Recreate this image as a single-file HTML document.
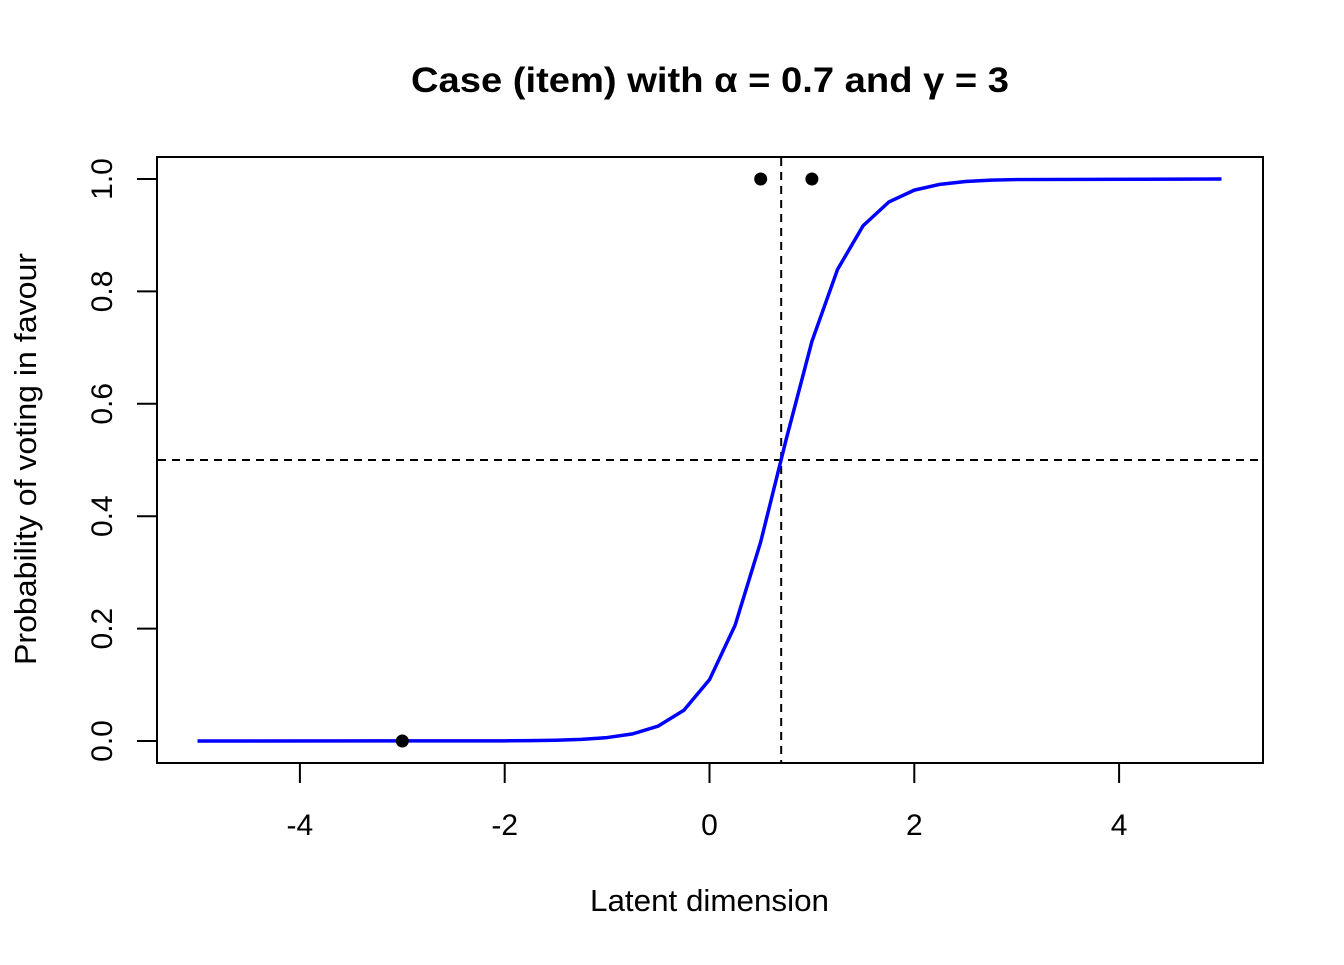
<!DOCTYPE html>
<html><head><meta charset="utf-8"><style>
html,body{margin:0;padding:0;background:#fff;}
svg text{font-family:"Liberation Sans",Arial,sans-serif;}
</style></head><body>
<svg id="chart" width="1344" height="960" xmlns="http://www.w3.org/2000/svg">
<text x="411" y="92" font-size="35" font-weight="bold" textLength="598" lengthAdjust="spacingAndGlyphs">Case (item) with α = 0.7 and γ = 3</text>
<text x="590" y="911" font-size="31" textLength="239" lengthAdjust="spacingAndGlyphs">Latent dimension</text>
<text transform="translate(36,665) rotate(-90)" font-size="31" textLength="412" lengthAdjust="spacingAndGlyphs">Probability of voting in favour</text>
<rect x="157" y="157" width="1106" height="606" fill="none" stroke="#000" stroke-width="2"/>
<g id="marks"></g>
</svg>
<script>
const curveX = [-5,-2,-1.75,-1.5,-1.25,-1,-0.75,-0.5,-0.25,0,0.25,0.5,0.75,1,1.25,1.5,1.75,2,2.25,2.5,2.75,3,5];
const curveY = [0,0.0003,0.0006,0.0014,0.0029,0.0061,0.0127,0.0266,0.0547,0.1091,0.2059,0.3543,0.5374,0.7109,0.8389,0.9168,0.9589,0.9802,0.9905,0.9955,0.9979,0.999,1];
const pointX = [-3,0.5,1];
const pointY = [0,1,1];
const xTicks = [-4,-2,0,2,4];
const yTicks = [0,0.2,0.4,0.6,0.8,1];
const yTickLabels = ["0.0","0.2","0.4","0.6","0.8","1.0"];
const alphaLine = 0.7, halfLine = 0.5;

const NS="http://www.w3.org/2000/svg";
const sx = v => 709.5 + v*102.4;
const sy = v => 741 - v*562;
const g = document.getElementById('marks');
function mk(tag, attrs){const e=document.createElementNS(NS,tag);for(const k in attrs)e.setAttribute(k,attrs[k]);g.appendChild(e);return e;}

xTicks.forEach(t=>{
  const l=mk('line',{x1:sx(t),x2:sx(t),y1:763,y2:783,stroke:'#000','stroke-width':2});
  
  
  const tx=mk('text',{x:sx(t),y:835,'text-anchor':'middle','font-size':30});
  tx.textContent=String(t);
  
  
});
yTicks.forEach((t,i)=>{
  const l=mk('line',{x1:137,x2:157,y1:sy(t),y2:sy(t),stroke:'#000','stroke-width':2});
  
  
  const tx=mk('text',{transform:`translate(112,${sy(t)}) rotate(-90)`,'text-anchor':'middle','font-size':30});
  tx.textContent=yTickLabels[i];
  
  
});
const vl=mk('line',{x1:sx(alphaLine),x2:sx(alphaLine),y1:158,y2:762,stroke:'#000','stroke-width':2,'stroke-dasharray':'8,6'});


const hl=mk('line',{x1:158,x2:1262,y1:sy(halfLine),y2:sy(halfLine),stroke:'#000','stroke-width':2,'stroke-dasharray':'8,6'});


const p=mk('polyline',{points:curveX.map((x,i)=>sx(x)+','+sy(curveY[i])).join(' '),fill:'none',stroke:'#0000ff','stroke-width':3.5,'stroke-linejoin':'round'});


pointX.forEach((x,i)=>{
  const c=mk('circle',{cx:sx(x),cy:sy(pointY[i]),r:6.5,fill:'#000'});
  
  
});
</script>
</body></html>
